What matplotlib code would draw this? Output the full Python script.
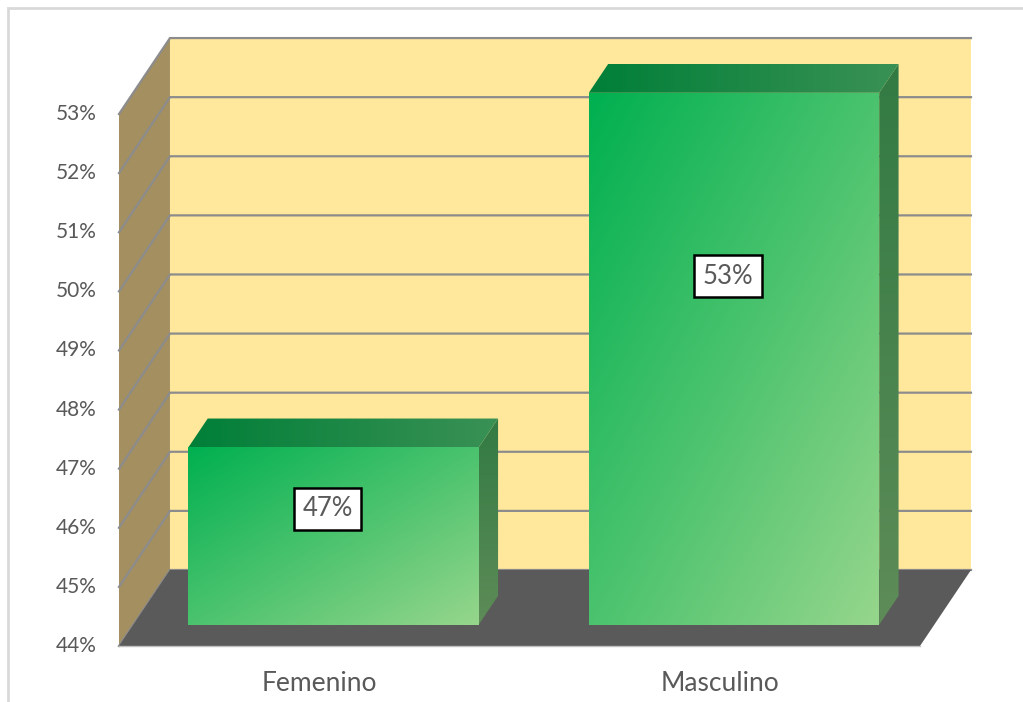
import matplotlib
matplotlib.use("Agg")
import matplotlib.pyplot as plt
from matplotlib.patches import Polygon, Rectangle
from matplotlib.colors import to_rgb
import numpy as np

# data
categories = ["Femenino", "Masculino"]
values = [47, 53]
tick_values = [44, 45, 46, 47, 48, 49, 50, 51, 52, 53]
tick_labels = ["44%", "45%", "46%", "47%", "48%", "49%", "50%", "51%", "52%", "53%"]
value_labels = ["47%", "53%"]

# 3d look (oblique projection in data units)
DX = 0.1273      # depth shift in category units
DY = 1.286       # depth shift in percent units
BAR_W = 0.725
D0, D1 = 0.28, 0.66   # bar front / back depth
YMIN, YMAX = 44, 53

TEXT = "#595959"
plt.rcParams["font.family"] = ["Lato", "DejaVu Sans"]


def proj(x, y, d):
    return (x + d * DX, y + d * DY)


def gradient(c0, c1, mode, n=200):
    a = np.array(to_rgb(c0))
    b = np.array(to_rgb(c1))
    xx, yy = np.meshgrid(np.linspace(0, 1, n), np.linspace(0, 1, n))
    if mode == "diag":
        t = (xx + yy) / 2
    elif mode == "h":
        t = xx
    else:
        t = yy
    return a + (b - a) * t[..., None]


def shaded_poly(ax, pts, c0, c1, mode, z):
    poly = Polygon(pts, closed=True, facecolor="none", edgecolor="none", zorder=z)
    ax.add_patch(poly)
    xs = [p[0] for p in pts]
    ys = [p[1] for p in pts]
    im = ax.imshow(gradient(c0, c1, mode), extent=(min(xs), max(xs), min(ys), max(ys)),
                   origin="upper", aspect="auto", zorder=z, interpolation="bilinear")
    im.set_clip_path(poly)


def plotChart():
    fig = plt.figure(figsize=(10.23, 7.02), dpi=100)
    ax = fig.add_axes([0, 0, 1, 1])
    ax.axis("off")

    # chart border
    fig.patches.append(Rectangle((8 / 1023, -0.02), 1.1, (702 - 8) / 702 + 0.02,
                                 transform=fig.transFigure, facecolor="none",
                                 edgecolor="#D9D9D9", lw=2))

    n = len(categories)
    # back wall
    back = [proj(0, YMIN, 1), proj(n, YMIN, 1), proj(n, YMAX, 1), proj(0, YMAX, 1)]
    ax.add_patch(Polygon(back, closed=True, facecolor="#FFE89B", edgecolor="none", zorder=1))
    # side wall
    side = [proj(0, YMIN, 0), proj(0, YMIN, 1), proj(0, YMAX, 1), proj(0, YMAX, 0)]
    ax.add_patch(Polygon(side, closed=True, facecolor="#A38F60", edgecolor="none", zorder=1))

    # gridlines
    for v in tick_values:
        p0 = proj(0, v, 0)
        p1 = proj(0, v, 1)
        p2 = proj(n, v, 1)
        ax.plot([p0[0], p1[0], p2[0]], [p0[1], p1[1], p2[1]], color="#8C8C8C", lw=1.6,
                zorder=2, solid_joinstyle="miter")

    # floor
    floor = [proj(0, YMIN, 0), proj(n, YMIN, 0), proj(n, YMIN, 1), proj(0, YMIN, 1)]
    ax.add_patch(Polygon(floor, closed=True, facecolor="#5A5A5A", edgecolor="none", zorder=3))
    ax.plot([0, n], [YMIN, YMIN], color="#BFBFBF", lw=1, zorder=3)

    # bars
    for i, v in enumerate(values):
        x0 = i + (1 - BAR_W) / 2
        x1 = x0 + BAR_W
        # right side face
        sf = [proj(x1, YMIN, D0), proj(x1, YMIN, D1), proj(x1, v, D1), proj(x1, v, D0)]
        shaded_poly(ax, sf, "#327A43", "#5E8C58", "v", 4)
        # top face
        tf = [proj(x0, v, D0), proj(x1, v, D0), proj(x1, v, D1), proj(x0, v, D1)]
        shaded_poly(ax, tf, "#007F38", "#3A9155", "h", 4)
        # front face
        ff = [proj(x0, YMIN, D0), proj(x1, YMIN, D0), proj(x1, v, D0), proj(x0, v, D0)]
        shaded_poly(ax, ff, "#00B050", "#96D68C", "diag", 5)

        lx, ly = proj(i + 0.485, YMIN + 0.655 * (v - YMIN), D0)
        ax.text(lx, ly, value_labels[i], ha="center", va="center", fontsize=18.5,
                color=TEXT, zorder=6,
                bbox=dict(boxstyle="square,pad=0.33", facecolor="white",
                          edgecolor="black", lw=1.8))

        ax.text(i + 0.5, 43.37, categories[i], ha="center", va="center",
                fontsize=19, color=TEXT, zorder=6)

    # tick labels
    for v, lab in zip(tick_values, tick_labels):
        ax.text(-0.055, v, lab, ha="right", va="center", fontsize=15, color=TEXT)

    ax.set_xlim(-0.2971, 2.2572)
    ax.set_ylim(43.0525, 54.93)
    fig.savefig("out.png", dpi=100)


def main():
    plotChart()


if __name__ == "__main__":
    main()
